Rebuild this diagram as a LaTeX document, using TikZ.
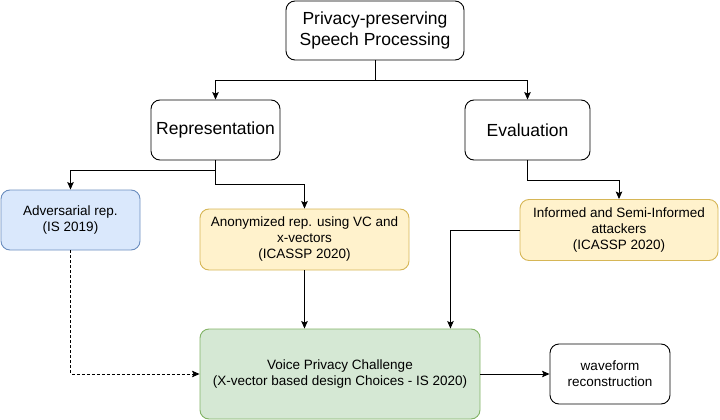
\documentclass[tikz,border=0pt]{standalone}
\usepackage{fontspec}
\setmainfont{Liberation Sans}
\usepackage{xcolor}
\usepackage{tikz}
\usetikzlibrary{arrows,arrows.meta,backgrounds}

\definecolor{blueFill}{HTML}{DAE8FC}
\definecolor{blueLine}{HTML}{6C8EBF}
\definecolor{yellowFill}{HTML}{FFF2CC}
\definecolor{yellowLine}{HTML}{D6B656}
\definecolor{greenFill}{HTML}{D5E8D4}
\definecolor{greenLine}{HTML}{82B366}

\begin{document}
\begin{tikzpicture}[>={Stealth[length=7.5pt,width=6.5pt,inset=1.5pt]} , x = 1pt , y = -1pt , line width = 0.9pt ,
    box/.style = {draw, rounded corners=9pt, align=center, inner sep=2pt},
    bigbox/.style = {box, font=\fontsize{17.5}{21.5}\selectfont},
    smallbox/.style = {box, font=\fontsize{13.5}{16}\selectfont},
    bluebox/.style = {smallbox, fill=blueFill, draw=blueLine},
    yellowbox/.style = {smallbox, fill=yellowFill, draw=yellowLine},
    greenbox/.style = {smallbox, fill=greenFill, draw=greenLine}
  ]
            \useasboundingbox (0,0) rectangle (720,420);
            \node[bigbox, minimum width=178pt, minimum height=59pt] (root) at (375,30.5)
                  {Privacy-preserving\\Speech Processing};
            \node[bigbox, minimum width=129pt, minimum height=60pt] (repr) at (215.5,130) {Representation};
            \node[bigbox, minimum width=125pt, minimum height=60pt] (eval) at (527.5,130) {Evaluation};
            \node[bluebox, minimum width=139pt, minimum height=60pt] (adv) at (70.5,220)
                  {Adversarial rep.\\(IS 2019)};
            \node[yellowbox, minimum width=209pt, minimum height=61pt] (anon) at (304.5,239.5)
                  {Anonymized rep. using VC and\\x-vectors\\(ICASSP 2020)};
            \node[yellowbox, minimum width=198pt, minimum height=61pt] (attack) at (619,230)
                  {Informed and Semi-Informed\\attackers\\(ICASSP 2020)};
            \node[greenbox, minimum width=280pt, minimum height=90pt] (vpc) at (340,374)
                  {Voice Privacy Challenge\\(X-vector based design Choices - IS 2020)};
            \node[smallbox, minimum width=120pt, minimum height=60pt] (wave) at (610,374)
                  {waveform\\reconstruction};
            \draw[->] (root.south) -- ++(0,19.5) -| (repr.north);
            \draw[->] (root.south) -- ++(0,19.5) -| (eval.north);
            \draw[->] (repr.south) -- ++(0,10) -| (adv.north);
            \draw[->] (repr.south) -- ++(0,24) -| (anon.north);
            \draw[->] (eval.south) -- ++(0,20) -| (attack.north);
            \draw[->] (attack.west) -| ([xshift=-30pt]vpc.north east);
            \draw[->] (anon.south) -- (anon.south |- vpc.north);
            \draw[->, densely dashed] (adv.south) |- (vpc.west);
            \draw[->] (vpc.east) -- (wave.west);
        \end{tikzpicture}
\end{document}
